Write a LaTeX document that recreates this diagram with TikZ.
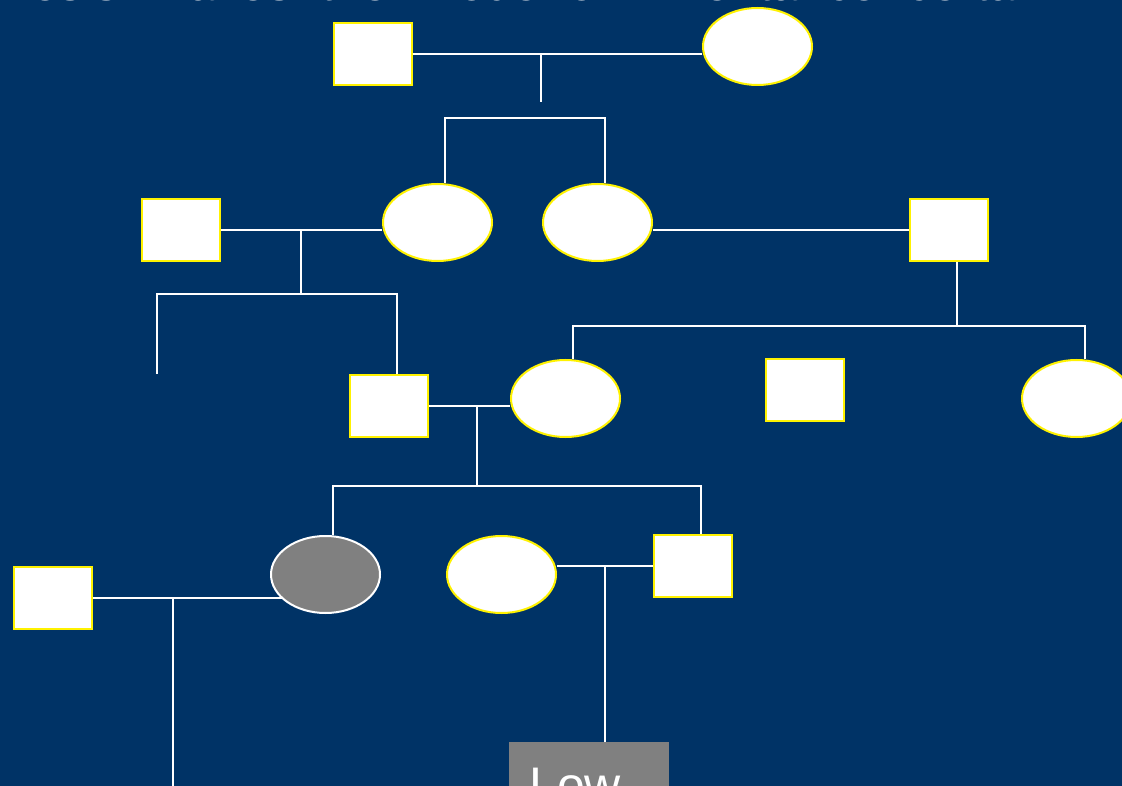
\documentclass[tikz,border=0pt]{standalone}
\usepackage{fontspec}
\setmainfont{Liberation Sans}
\usetikzlibrary{shapes.geometric}
\definecolor{bgblue}{RGB}{0,51,102}
\definecolor{affgray}{RGB}{128,128,128}
\pgfdeclarelayer{bg}
\pgfdeclarelayer{lines}
\pgfsetlayers{bg,lines,main}
\tikzset{
  male/.style={draw=yellow, fill=white, line width=2pt, rectangle, minimum width=78pt, minimum height=62pt, inner sep=0pt},
  female/.style={draw=yellow, fill=white, line width=2pt, ellipse, minimum width=109pt, minimum height=77pt, inner sep=0pt},
  affected/.style={female, draw=white, fill=affgray},
  rel/.style={draw=white, line width=1.6pt},
  bigtext/.style={text=white, inner sep=0pt, font=\fontsize{49}{58}\selectfont}
}
\begin{document}
\begin{tikzpicture}[x=1pt,y=-1pt]
\useasboundingbox (0,0) rectangle (1122,786);
\clip (0,0) rectangle (1122,786);
\begin{pgfonlayer}{bg}
\fill[bgblue] (0,0) rectangle (1122,786);
\end{pgfonlayer}
% title (cut off at top)
\node[bigtext, anchor=base west] (title) at (4,0.8) {\makebox[1050pt][s]{hesis makes the mode of inheritance certain}};
% Generation I
\node[male] (I1) at (373,54) {};
\node[female] (I2) at (757.5,46.5) {};
% Generation II
\node[male] (II1) at (181,230) {};
\node[female] (II2) at (437.5,222.5) {};
\node[female] (II3) at (597.5,222.5) {};
\node[male] (II4) at (949,230) {};
% Generation III
\node[male] (III1) at (389,406) {};
\node[female] (III2) at (565.5,398.5) {};
\node[male] (III3) at (805,390) {};
\node[female] (III4) at (1076.5,398.5) {};
% Generation IV
\node[male] (IV1) at (53,598) {};
\node[affected] (IV2) at (325.5,574.5) {};
\node[female] (IV3) at (501.5,574.5) {};
\node[male] (IV4) at (693,566) {};
% Low box
\node[fill=affgray, minimum width=160pt, minimum height=90pt, inner sep=0pt, anchor=north west] (low) at (509,742) {};
\node[bigtext, anchor=base west, font=\fontsize{50}{60}\selectfont] (lowtext) at (529,802) {Low};
% junction coordinates
\coordinate (mI) at (541,54);
\coordinate (dI) at (541,102);
\coordinate (sI) at (525,118);
\coordinate (mII) at (301,230);
\coordinate (sII) at (301,294);
\coordinate (free1) at (157,374);
\coordinate (sII4) at (957,326);
\coordinate (mIII) at (477,406);
\coordinate (sIII) at (477,486);
\coordinate (mIV1) at (173,598);
\coordinate (free2) at (173,800);
\coordinate (mIV2) at (605,566);
\begin{pgfonlayer}{lines}
% Gen I couple
\draw[rel] (I1.east) -- (I1.east -| I2.west);
\draw[rel] (mI) -- (dI);
\draw[rel] (II2.north -| 445,0) |- (sI) -| (II3.north -| 605,0);
% Gen II couple left
\draw[rel] (II1.east) -- (II1.east -| II2.west);
\draw[rel] (mII) -- (sII);
\draw[rel] (free1) |- (sII) -| (III1.north -| 397,0);
% Gen II couple right
\draw[rel] (II3.east |- II4.west) -- (II4.west);
\draw[rel] (II4.south -| sII4) -- (sII4);
\draw[rel] (III2.north -| 573,0) |- (sII4);
\draw[rel] (III3.north -| 813,0) -- (III3.north -| 813,326);
\draw[rel] (sII4) -| (III4.north -| 1085,0);
% Gen III couple
\draw[rel] (III1.east) -- (III1.east -| III2.west);
\draw[rel] (mIII) -- (sIII);
\draw[rel] (IV2.north -| 333,0) |- (sIII) -| (IV4.north -| 701,0);
\draw[rel] (IV3.north -| 509,0) -- (IV3.north -| 509,486);
% Gen IV couples
\draw[rel] (IV1.east) -- (IV2.center |- IV1.east);
\draw[rel] (mIV1) -- (free2);
\draw[rel] (IV3.east |- IV4.west) -- (IV4.west);
\draw[rel] (mIV2) -- (mIV2 |- low.north);
\end{pgfonlayer}
\end{tikzpicture}
\end{document}
